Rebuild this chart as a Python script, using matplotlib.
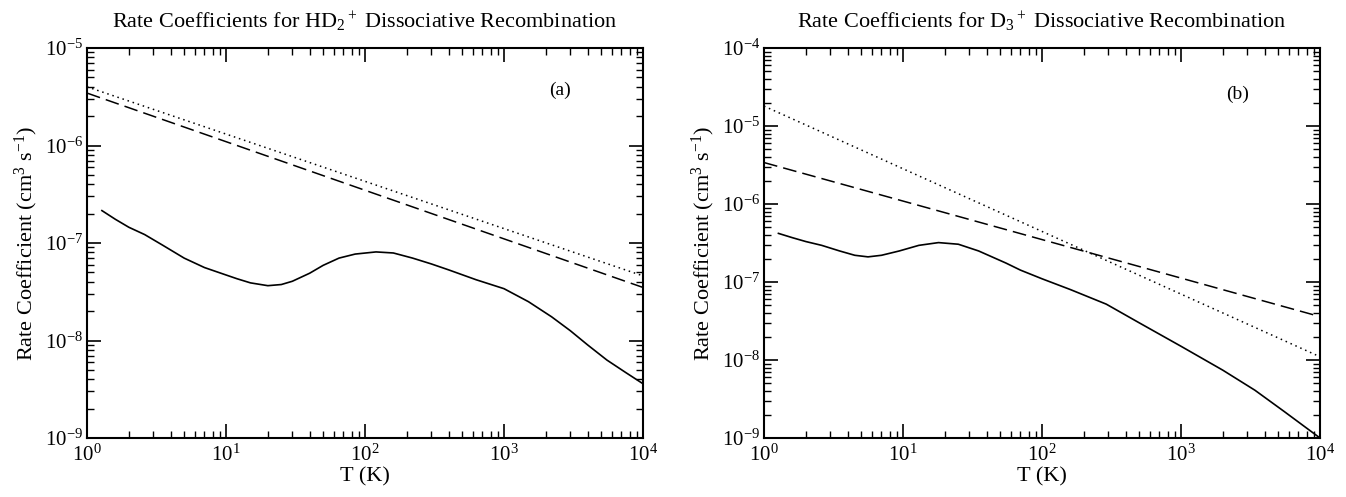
import numpy as np
import matplotlib
matplotlib.use('Agg')
import matplotlib.pyplot as plt
from matplotlib.ticker import LogLocator, NullFormatter

plt.rcParams['font.family'] = ['Liberation Serif', 'DejaVu Serif']
plt.rcParams['mathtext.fontset'] = 'custom'
plt.rcParams['mathtext.rm'] = 'Liberation Serif'
plt.rcParams['mathtext.it'] = 'Liberation Serif:italic'
plt.rcParams['axes.unicode_minus'] = False

# Данные (T в K, коэффициент в см^3 с^-1)
# (a) HD2+
t_a_solid = [1.28, 1.6, 2.0, 2.6, 3.5, 5.0, 7.0, 10, 12, 15, 20, 25, 30, 40, 50, 65, 85,
             120, 160, 220, 300, 400, 630, 1000, 1500, 2200, 3000, 4000, 5500, 7500, 10000]
k_a_solid = [2.15e-7, 1.75e-7, 1.45e-7, 1.22e-7, 9.5e-8, 7.0e-8, 5.6e-8, 4.7e-8, 4.3e-8,
             3.9e-8, 3.65e-8, 3.75e-8, 4.05e-8, 4.9e-8, 5.9e-8, 7.0e-8, 7.7e-8,
             8.1e-8, 7.9e-8, 7.0e-8, 6.1e-8, 5.3e-8, 4.2e-8, 3.4e-8, 2.5e-8, 1.75e-8,
             1.26e-8, 9.0e-9, 6.3e-9, 4.7e-9, 3.6e-9]
t_a_dash = [1, 10000]
k_a_dash = [3.45e-6, 3.5e-8]
t_a_dot = [1, 10000]
k_a_dot = [4.0e-6, 4.6e-8]

# (b) D3+
t_b_solid = [1.27, 1.6, 2.0, 2.6, 3.5, 4.5, 5.6, 7.0, 9.4, 13, 18, 25, 35, 55, 70,
             100, 160, 290, 500, 1000, 2000, 3400, 5500, 10000]
k_b_solid = [4.2e-7, 3.7e-7, 3.3e-7, 2.95e-7, 2.5e-7, 2.2e-7, 2.1e-7, 2.2e-7, 2.5e-7,
             2.95e-7, 3.2e-7, 3.05e-7, 2.5e-7, 1.75e-7, 1.42e-7, 1.1e-7, 8.0e-8, 5.2e-8,
             3.0e-8, 1.5e-8, 7.4e-9, 4.1e-9, 2.2e-9, 1.0e-9]
t_b_dash = [1, 10000]
k_b_dash = [3.4e-6, 3.6e-8]
t_b_dot = [1, 10000]
k_b_dot = [1.8e-5, 1.1e-8]

W, H = 1346, 497
fig = plt.figure(figsize=(W / 100, H / 100), dpi=100)


def make_axes(x0, ylim, title, tag, tag_y):
    ax = fig.add_axes([x0 / W, (H - 438) / H, 556 / W, 390 / H])
    ax.set_xscale('log')
    ax.set_yscale('log')
    ax.set_xlim(1, 1e4)
    ax.set_ylim(*ylim)
    ax.xaxis.set_minor_locator(LogLocator(base=10, subs=np.arange(2, 10), numticks=20))
    ax.yaxis.set_minor_locator(LogLocator(base=10, subs=np.arange(2, 10), numticks=20))
    ax.xaxis.set_minor_formatter(NullFormatter())
    ax.yaxis.set_minor_formatter(NullFormatter())
    ax.tick_params(which='both', direction='in', top=True, right=True, labelsize=15)
    ax.tick_params(which='major', length=10, width=1.2)
    ax.tick_params(which='minor', length=5, width=1.0)
    ax.tick_params(axis='x', pad=5)
    ax.tick_params(axis='y', pad=3)
    for s in ax.spines.values():
        s.set_linewidth(1.5)
    ax.text(0.5, 1 + 26 / 390, title, transform=ax.transAxes, fontsize=16,
            ha='center', va='center')
    ax.set_xlabel('T (K)', fontsize=16)
    ax.xaxis.set_label_coords(0.5, -0.075)
    ax.set_ylabel(r'Rate Coefficient (cm$^3$ s$^{-1}$)', fontsize=16)
    ax.yaxis.set_label_coords(-0.085, 0.5)
    ax.text(0.851, tag_y, tag, transform=ax.transAxes, fontsize=14, ha='center', va='center')
    return ax


ax1 = make_axes(87, (1e-9, 1e-5), r'Rate Coefficients for HD$_2$$^+$ Dissociative Recombination', '(a)', 0.892)
ax1.plot(t_a_solid, k_a_solid, color='black', lw=1.2)
ax1.plot(t_a_dash, k_a_dash, color='black', lw=1.1, dashes=(9, 4))
ax1.plot(t_a_dot, k_a_dot, color='black', lw=1.1, dashes=(1, 2.5))

ax2 = make_axes(764, (1e-9, 1e-4), r'Rate Coefficients for D$_3$$^+$ Dissociative Recombination', '(b)', 0.88)
ax2.plot(t_b_solid, k_b_solid, color='black', lw=1.2)
ax2.plot(t_b_dash, k_b_dash, color='black', lw=1.1, dashes=(9, 4))
ax2.plot(t_b_dot, k_b_dot, color='black', lw=1.1, dashes=(1, 2.5))

fig.savefig('out.png', dpi=100)
